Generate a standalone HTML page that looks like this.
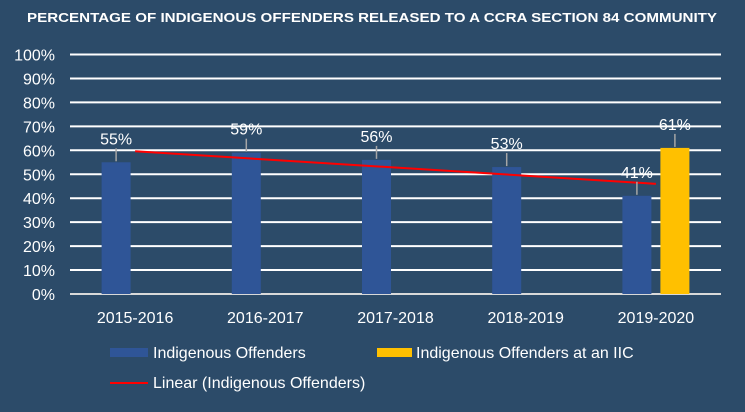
<!DOCTYPE html>
<html><head><meta charset="utf-8"><style>
html,body{margin:0;padding:0;background:#2c4b69;}
svg{display:block;font-family:"Liberation Sans",Arial,sans-serif;}
</style></head><body>
<svg id="chart" width="745" height="412" viewBox="0 0 745 412">
<rect x="0" y="0" width="745" height="412" fill="#2c4b69"/>
<text x="372" y="22" text-anchor="middle" fill="#fff" font-weight="bold" font-size="13" textLength="690" lengthAdjust="spacingAndGlyphs">PERCENTAGE OF INDIGENOUS OFFENDERS RELEASED TO A CCRA SECTION 84 COMMUNITY</text>
<g id="grid"></g>
<g id="yaxis"></g>
<g id="bars"></g>
<g id="trend"></g>
<g id="labels"></g>
<g id="xaxis"></g>
<g>
<rect x="110" y="348" width="38" height="9" fill="#2f5597"/>
<text x="153" y="358" fill="#fff" font-size="16">Indigenous Offenders</text>
<rect x="377" y="348" width="35" height="9" fill="#ffc000"/>
<text x="416" y="358" fill="#fff" font-size="16">Indigenous Offenders at an IIC</text>
<line x1="110" y1="383" x2="148" y2="383" stroke="#ff0000" stroke-width="2"/>
<text x="153" y="388" fill="#fff" font-size="16">Linear (Indigenous Offenders)</text>
</g>
</svg>
<script>
const categories = ["2015-2016","2016-2017","2017-2018","2018-2019","2019-2020"];
const indigenous = [55,59,56,53,41];
const iicCategory = "2019-2020";
const iicValue = [61];
const yTicks = [0,10,20,30,40,50,60,70,80,90,100];
const NS="http://www.w3.org/2000/svg";
const X0=70, X1=721, Y0=294, Y100=54.5;
const bw=(X1-X0)/categories.length;
const y=v=>Y0-(Y0-Y100)*v/100;
const cx=i=>X0+bw*(i+0.5);
function mk(tag,attrs,parent,text){const e=document.createElementNS(NS,tag);for(const k in attrs)e.setAttribute(k,attrs[k]);if(text!==undefined)e.textContent=text;document.getElementById(parent).appendChild(e);return e;}
yTicks.forEach(t=>{
  const l=mk('line',{x1:X0,x2:X1,y1:y(t),y2:y(t),stroke:t===0?'#d9d9d9':'#ffffff','stroke-width':2},'grid');
  
  
  const tx=mk('text',{x:55,y:y(t)+6,'text-anchor':'end',fill:'#fff','font-size':16},'yaxis',t+'%');
  
  
});
const barW=29;
function label(xc,v,top,name){
  const ln=mk('line',{x1:xc,x2:xc,y1:top-1,y2:top-14,stroke:'#a6a6a6','stroke-width':1.5},'labels');
  
  
  const t=mk('text',{x:xc,y:top-18,'text-anchor':'middle',fill:'#fff','font-size':16},'labels',v+'%');
  
  
}
categories.forEach((c,i)=>{
  const hasIIC=c===iicCategory;
  const bx=cx(i)-19-barW/2;
  const r=mk('rect',{x:bx,y:y(indigenous[i]),width:barW,height:Y0-y(indigenous[i]),fill:'#2f5597'},'bars');
  
  
  if(hasIIC){
    const bx2=cx(i)+19-barW/2;
    const r2=mk('rect',{x:bx2,y:y(iicValue[0]),width:barW,height:Y0-y(iicValue[0]),fill:'#ffc000'},'bars');
    
    
    label(bx2+barW/2,iicValue[0],y(iicValue[0]),'iic-'+c);
  }
  label(bx+barW/2,indigenous[i],y(indigenous[i]),'indigenous-'+c);
  const t=mk('text',{x:cx(i),y:323,'text-anchor':'middle',fill:'#fff','font-size':16},'xaxis',c);
  
  
});
const n=indigenous.length;
const mx=(n-1)/2, my=indigenous.reduce((a,b)=>a+b,0)/n;
let sxy=0,sxx=0;indigenous.forEach((v,i)=>{sxy+=(i-mx)*(v-my);sxx+=(i-mx)*(i-mx);});
const slope=sxy/sxx, icpt=my-slope*mx;
const tl=mk('line',{x1:cx(0),y1:y(icpt),x2:cx(n-1),y2:y(icpt+slope*(n-1)),stroke:'#ff0000','stroke-width':2},'trend');


</script>
</body></html>
